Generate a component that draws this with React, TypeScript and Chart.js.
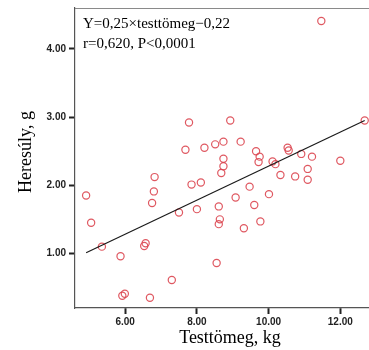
import React, { useEffect, useRef } from 'react';
import { Chart, registerables } from 'chart.js';

Chart.register(...registerables);

// Testtömeg (kg) values of each animal
const bodyWeight = [
  4.91, 5.05, 5.35, 5.87, 5.92, 5.99, 6.53, 6.57, 6.69, 6.75, 6.8, 6.82, 7.3, 7.5,
  7.68, 7.78, 7.85, 8.0, 8.11, 8.21, 8.51, 8.55, 8.61, 8.64, 8.61, 8.68, 8.74, 8.74,
  8.74, 8.93, 9.08, 9.22, 9.31, 9.47, 9.6, 9.65, 9.72, 9.75, 9.77, 10.01, 10.11, 10.19,
  10.33, 10.53, 10.56, 10.74, 10.91, 11.09, 11.09, 11.21, 11.47, 12.0, 12.68,
];
// Heresúly (g) values of each animal
const testisWeight = [
  1.85, 1.45, 1.1, 0.96, 0.38, 0.41, 1.11, 1.15, 0.35, 1.74, 1.91, 2.12, 0.61, 1.6,
  2.52, 2.92, 2.01, 1.65, 2.04, 2.55, 2.6, 0.86, 1.69, 1.5, 1.43, 2.18, 2.28, 2.39,
  2.64, 2.95, 1.82, 2.64, 1.37, 1.98, 1.71, 2.5, 2.34, 2.42, 1.47, 1.87, 2.35, 2.31,
  2.15, 2.55, 2.51, 2.13, 2.46, 2.24, 2.08, 2.42, 4.41, 2.36, 2.95,
];
// Regression line end points
const fitX = [4.91, 12.68];
const fitY = [1.01, 2.95];

const xTicks = [6, 8, 10, 12];
const yTicks = [1, 2, 3, 4];

const equationText = 'Y=0,25×testtömeg−0,22';
const statsText = 'r=0,620, P<0,0001';
const xTitle = 'Testtömeg, kg';
const yTitle = 'Heresúly, g';

const SERIF = '"Liberation Serif", "Times New Roman", serif';
const TICKFONT = '"Liberation Sans Narrow", "Liberation Sans", Arial, sans-serif';

const decorPlugin = {
  id: 'decor',
  afterDraw(chart: any) {
    const { ctx, chartArea } = chart;
    ctx.save();
    // top frame line
    ctx.strokeStyle = '#8a8a8a';
    ctx.lineWidth = 1;
    ctx.beginPath();
    ctx.moveTo(chartArea.left, chartArea.top + 0.5);
    ctx.lineTo(chart.width, chartArea.top + 0.5);
    ctx.stroke();

    ctx.fillStyle = '#000';
    ctx.font = `15px ${SERIF}`;
    ctx.textAlign = 'left';
    ctx.textBaseline = 'alphabetic';
    ctx.fillText(equationText, 83, 28);
    ctx.fillText(statsText, 83, 48);

    ctx.font = `18px ${SERIF}`;
    ctx.textAlign = 'center';
    ctx.textBaseline = 'middle';
    ctx.fillText(xTitle, 230, 338);

    ctx.translate(26, 152);
    ctx.rotate(-Math.PI / 2);
    ctx.fillText(yTitle, 0, 0);
    ctx.restore();
  },
};

export default function App() {
  const canvasRef = useRef<HTMLCanvasElement | null>(null);

  useEffect(() => {
    document.body.style.margin = '0';
    const canvas = canvasRef.current;
    if (!canvas) return;
    const points = bodyWeight.map((x, i) => ({ x, y: testisWeight[i] }));
    const line = fitX.map((x, i) => ({ x, y: fitY[i] }));

    const chart = new Chart(canvas, {
      type: 'scatter',
      data: {
        datasets: [
          {
            type: 'line',
            data: line,
            borderColor: '#1a1a1a',
            borderWidth: 1.2,
            pointRadius: 0,
            fill: false,
          } as any,
          {
            data: points,
            pointStyle: 'circle',
            pointRadius: 3.6,
            pointBorderWidth: 1.2,
            pointBorderColor: 'rgba(220,70,80,0.9)',
            pointBackgroundColor: 'rgba(255,255,255,0)',
            showLine: false,
          } as any,
        ],
      },
      options: {
        animation: false,
        responsive: false,
        events: [],
        layout: { autoPadding: false, padding: { top: 8, left: 0, right: 0, bottom: 0 } },
        plugins: {
          legend: { display: false },
          tooltip: { enabled: false },
          title: { display: false },
        },
        scales: {
          x: {
            type: 'linear',
            min: 4.6,
            max: 12.8,
            afterBuildTicks: (s: any) => {
              s.ticks = xTicks.map((v) => ({ value: v }));
            },
            afterFit: (s: any) => {
              s.height = 42;
              s.paddingLeft = 0;
              s.paddingRight = 0;
            },
            border: { display: true, color: '#555', width: 1.2 },
            grid: {
              drawOnChartArea: false,
              drawTicks: true,
              tickLength: 6,
              tickWidth: 2,
              tickColor: '#222',
            },
            ticks: {
              padding: 2,
              color: '#222',
              font: { family: TICKFONT, size: 10, weight: 'bold' },
              callback: (v: any) => Number(v).toFixed(2),
            },
          },
          y: {
            type: 'linear',
            min: 0.2,
            max: 4.6,
            afterBuildTicks: (s: any) => {
              s.ticks = yTicks.map((v) => ({ value: v }));
            },
            afterFit: (s: any) => {
              s.width = 75;
              s.paddingTop = 0;
              s.paddingBottom = 0;
            },
            border: { display: true, color: '#555', width: 1.2 },
            grid: {
              drawOnChartArea: false,
              drawTicks: true,
              tickLength: 6,
              tickWidth: 2,
              tickColor: '#222',
            },
            ticks: {
              padding: 3,
              color: '#222',
              font: { family: TICKFONT, size: 10, weight: 'bold' },
              callback: (v: any) => Number(v).toFixed(2),
            },
          },
        },
      },
      plugins: [decorPlugin],
    });
    return () => chart.destroy();
  }, []);

  return (
    <div style={{ width: 369, height: 350, background: '#fff' }}>
      <canvas ref={canvasRef} width={369} height={350} style={{ display: 'block' }} />
    </div>
  );
}
